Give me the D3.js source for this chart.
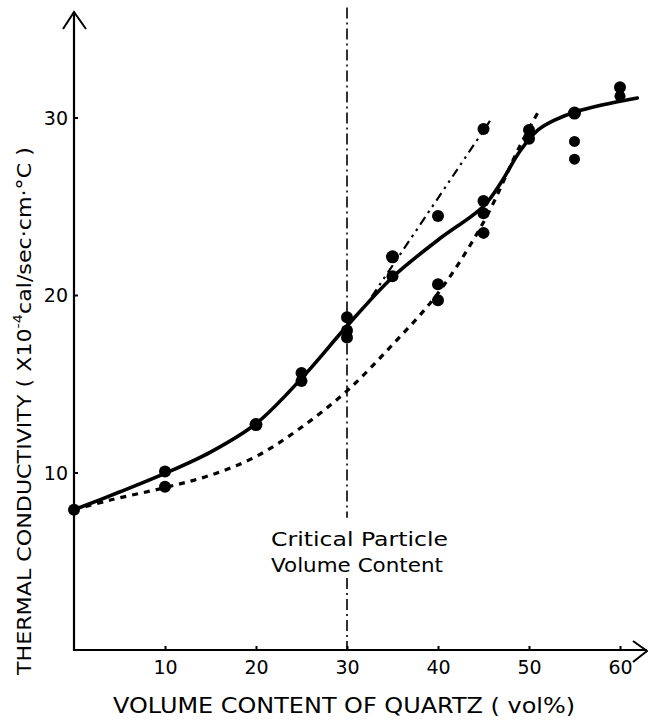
<!DOCTYPE html>
<html><head><meta charset="utf-8">
<script src="https://cdn.jsdelivr.net/npm/d3@7"></script>
<style>html,body{margin:0;padding:0;background:#fff;}svg{display:block;}</style>
</head><body>
<svg id="c" width="648" height="722"></svg>
<script>
// ---- data ----
const quartzVol    = [0, 10, 10, 20, 25, 25, 30, 30, 30, 35, 35, 40, 40, 40, 45, 45, 45, 45, 50, 50, 55, 55, 55, 60, 60];
const conductivity = [7.9, 10.05, 9.2, 12.7, 15.6, 15.15, 18.75, 18.0, 17.6, 22.15, 21.05, 24.45, 20.6, 19.7, 29.35, 25.3, 24.6, 23.5, 29.3, 28.8, 30.25, 28.65, 27.65, 31.7, 31.2];
const dotSize      = [6, 6, 6, 6.5, 6, 6, 6, 6, 6, 6.5, 6, 6, 6, 6, 6, 6, 6, 6, 6, 6, 6.5, 5.5, 5.5, 6, 5.5];

const solidX = [0, 5, 10, 15, 20, 25, 30, 35, 40, 45, 47, 49, 51, 53, 55, 58, 61.9];
const solidY = [7.9, 8.9, 9.95, 11.15, 12.75, 15.3, 18.25, 21.0, 23.1, 25.0, 26.4, 28.1, 29.3, 29.9, 30.3, 30.7, 31.1];

const dashX = [0, 4, 10, 15, 20, 25, 30, 35, 40, 45, 49, 51];
const dashY = [7.9, 8.45, 9.15, 9.85, 10.9, 12.55, 14.6, 17.2, 20.1, 24.1, 28.4, 30.3];

const dashDotX = [32.7, 45.9];
const dashDotY = [19.9, 29.95];

const criticalX = 30;
const xTicks = [10, 20, 30, 40, 50, 60];
const yTicks = [10, 20, 30];

const noteLines = ["Critical Particle", "Volume Content"];
const xTitle = "VOLUME CONTENT OF QUARTZ ( vol%)";
const yTitleA = "THERMAL CONDUCTIVITY ( X10";
const yTitleSup = "-4";
const yTitleB = "cal/sec\u00b7cm\u00b7\u00b0C )";

// ---- scales ----
const x = d3.scaleLinear().domain([0, 60]).range([74, 620]);
const y = d3.scaleLinear().domain([0, 30]).range([650, 117.5]);

const svg = d3.select("#c");
const font = "'DejaVu Sans', sans-serif";

// axes lines with arrows
const x0 = x(0), y0 = y(0);
const xEnd = 647, yEnd = 12;
svg.append("line").attr("x1", x0).attr("y1", y0 + 1).attr("x2", x0).attr("y2", yEnd)
  .attr("stroke", "#000").attr("stroke-width", 2.2);
svg.append("line").attr("x1", x0 - 1).attr("y1", y0).attr("x2", xEnd).attr("y2", y0)
  .attr("stroke", "#000").attr("stroke-width", 2.2);
svg.append("path").attr("d", `M${x0 - 11},${yEnd + 17} L${x0},${yEnd} L${x0 + 12},${yEnd + 17}`)
  .attr("fill", "none").attr("stroke", "#000").attr("stroke-width", 2);
svg.append("path").attr("d", `M${xEnd - 14},${y0 - 9} L${xEnd},${y0 + 1} L${xEnd - 14},${y0 + 12}`)
  .attr("fill", "none").attr("stroke", "#000").attr("stroke-width", 2);

// axis ticks via d3 axes
const gx = svg.append("g").attr("transform", `translate(0,${y0})`)
  .call(d3.axisBottom(x).tickValues(xTicks).tickSize(-4).tickPadding(11).tickFormat(d3.format("d")));
const gy = svg.append("g").attr("transform", `translate(${x0},0)`)
  .call(d3.axisLeft(y).tickValues(yTicks).tickSize(-4).tickPadding(6).tickFormat(d3.format("d")));
[gx, gy].forEach(g => {
  g.select(".domain").remove();
  g.selectAll(".tick line").attr("stroke", "#000").attr("stroke-width", 2);
  g.selectAll(".tick text").attr("fill", "#000").style("font-family", font).style("font-size", "19px");
});
gx.selectAll(".tick text").attr("dy", "0.71em");
gy.selectAll(".tick text").attr("dy", "0.36em");

// critical line (dash-dot), interrupted by note
const crit = [[36.2, 7.45], [4.05, 0]];
crit.forEach(([a, b]) => {
  svg.append("line").attr("x1", x(criticalX)).attr("x2", x(criticalX))
    .attr("y1", y(a)).attr("y2", y(b))
    .attr("stroke", "#000").attr("stroke-width", 1.6)
    .attr("stroke-dasharray", "11,4,2,4");
});

// note text
noteLines.forEach((t, i) => {
  svg.append("text").attr("x", 271).attr("y", 546 + i * 26)
    .attr("textLength", i === 0 ? 177 : 172).attr("lengthAdjust", "spacingAndGlyphs")
    .style("font-family", font).style("font-size", "19px").attr("fill", "#000").text(t);
});

// curves
const line = d3.line().x(d => x(d[0])).y(d => y(d[1])).curve(d3.curveCatmullRom.alpha(0.5));
const solid = solidX.map((v, i) => [v, solidY[i]]);
const dashed = dashX.map((v, i) => [v, dashY[i]]);
const dashDot = dashDotX.map((v, i) => [v, dashDotY[i]]);

svg.append("path").attr("d", line(dashed)).attr("fill", "none").attr("stroke", "#000")
  .attr("stroke-width", 3.2).attr("stroke-dasharray", "6,6");
svg.append("path").attr("d", d3.line().x(d => x(d[0])).y(d => y(d[1]))(dashDot))
  .attr("fill", "none").attr("stroke", "#000").attr("stroke-width", 2.2)
  .attr("stroke-dasharray", "9,5,2.5,5,2.5,5");
svg.append("path").attr("d", line(solid)).attr("fill", "none").attr("stroke", "#000")
  .attr("stroke-width", 3.6).attr("stroke-linecap", "round");

// points
svg.append("g").selectAll("circle").data(quartzVol.map((v, i) => [v, conductivity[i], dotSize[i]]))
  .join("circle").attr("cx", d => x(d[0])).attr("cy", d => y(d[1])).attr("r", d => d[2]).attr("fill", "#000");

// axis titles
svg.append("text").attr("x", 113).attr("y", 713)
  .attr("textLength", 462).attr("lengthAdjust", "spacingAndGlyphs")
  .style("font-family", font).style("font-size", "21px").attr("fill", "#000").text(xTitle);

const yt = svg.append("text").attr("transform", "translate(31,675) rotate(-90)")
  .style("font-family", font).style("font-size", "20px").attr("fill", "#000");
yt.append("tspan").text(yTitleA);
yt.append("tspan").attr("dy", -9).style("font-size", "13px").text(yTitleSup);
yt.append("tspan").attr("dy", 9).text(yTitleB);
// fit y title length to reference
const len = yt.node().getComputedTextLength();
const target = 528;
yt.attr("transform", `translate(31,675) rotate(-90) scale(${target / len},1)`);
</script>
</body></html>
